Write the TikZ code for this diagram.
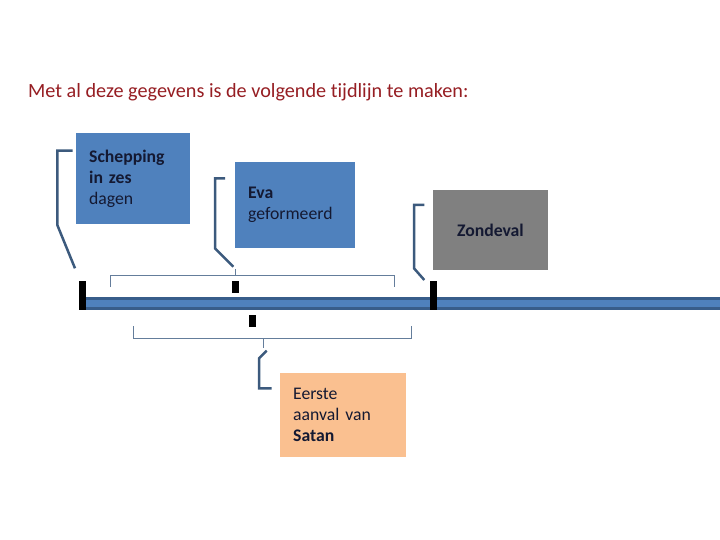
\documentclass[tikz,border=0pt]{standalone}
\usepackage{fontspec}
\setmainfont{Carlito}[Ligatures=NoCommon]
\usetikzlibrary{positioning}
\definecolor{barblue}{RGB}{79,129,189}
\definecolor{bardark}{RGB}{56,93,138}
\definecolor{calline}{RGB}{60,90,125}
\definecolor{brkline}{RGB}{100,125,155}
\definecolor{titlered}{RGB}{150,30,35}
\definecolor{boxtext}{RGB}{20,25,50}
\definecolor{peach}{RGB}{250,192,144}
\definecolor{zgray}{RGB}{128,128,128}
\begin{document}
\begin{tikzpicture}[x=1pt,y=-1pt,
  ev/.style={anchor=north west,inner xsep=13pt,inner ysep=0pt,align=left,text=boxtext,
    font=\fontsize{17.7}{21}\selectfont},
  call/.style={draw=calline,line width=2.5pt},
  brk/.style={draw=brkline,line width=0.9pt},
  tick/.style={fill=black,inner sep=0pt,minimum width=7pt}]
\useasboundingbox (0,0) rectangle (720,540);
\node[anchor=base west,inner sep=0pt,text=titlered,font=\fontsize{20.2}{24}\selectfont] (title) at (28,98)
  {Met al deze gegevens is de volgende tijdlijn te maken:};
\filldraw[fill=barblue,draw=bardark,line width=3pt] (84,298.5) rectangle (724,308.5);
\node[tick,minimum height=29pt] (t1) at (82.5,295.5) {};
\node[tick,minimum height=29pt] (t2) at (433.5,295.5) {};
\node[tick,minimum height=12pt] (t3) at (235.3,287) {};
\node[tick,minimum height=12pt] (t4) at (252.5,321) {};
\draw[brk] (110,287) |- (394,275) -- (394,287);
\draw[brk] (235.7,275) -- (235.7,269);
\draw[brk] (133.3,326) |- (411.7,338.3) -- (411.7,326);
\draw[brk] (263.3,338.3) -- (263.3,348);
\node[ev,fill=barblue,text width=87.3pt,minimum height=91pt] (sch) at (76,133.3)
  {\textbf{Schepping}\\\textbf{in zes}\\dagen};
\node[ev,fill=barblue,text width=94pt,minimum height=85.4pt] (eva) at (235,162.3)
  {\textbf{Eva}\\geformeerd};
\node[ev,fill=zgray,text width=89pt,minimum height=80pt,align=center] (zon) at (432.7,190)
  {\textbf{Zondeval}};
\node[ev,fill=peach,text width=99.7pt,minimum height=84.4pt] (eer) at (280,372.3)
  {Eerste\\aanval van\\\textbf{Satan}};
\coordinate (sch-tip) at (75,268.3);
\coordinate (eva-tip) at (233.3,266.7);
\coordinate (zon-tip) at (424.3,280);
\coordinate (eer-tip) at (266.7,350.7);
\draw[call] ([shift={(-3.3,17.4)}]sch.north west) -- ++(-15.4,0) -- ++(0,74.3) -- (sch-tip);
\draw[call] ([shift={(-10,16)}]eva.north west) -- ++(-10,0) -- ++(0,70) -- (eva-tip);
\draw[call] ([shift={(-8.4,15)}]zon.north west) -- ++(-10.3,0) -- ++(0,63.3) -- (zon-tip);
\draw[call] (eer-tip) -- ++(-7.7,7.6) -- ++(0,30) -- ([shift={(-8.3,16)}]eer.north west);
\end{tikzpicture}
\end{document}
